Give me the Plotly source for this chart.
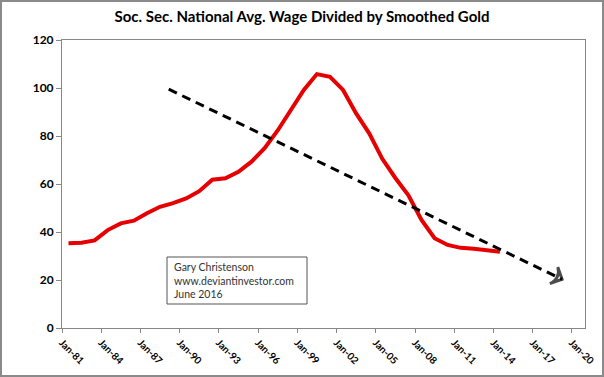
import plotly.graph_objects as go

# ---- data ----
years = list(range(1981, 2015))
ratio = [35.3, 35.5, 36.5, 40.8, 43.6, 44.7, 47.8, 50.5, 52.0, 54.0,
         57.0, 61.8, 62.4, 65.1, 69.3, 74.9, 82.3, 91.0, 99.2, 105.8,
         104.7, 99.2, 89.4, 81.1, 70.5, 62.5, 55.3, 45.0, 37.4, 34.6,
         33.4, 33.0, 32.6, 31.8]
dates = [f"{y}-07-01" for y in years]

trend_dates = ["1989-03-01", "2019-04-01"]
trend_values = [99.5, 20.3]

tick_years = list(range(1981, 2021, 3))
tick_dates = [f"{y}-01-01" for y in tick_years]
tick_labels = [f"Jan-{str(y)[2:]}" for y in tick_years]

y_ticks = [0, 20, 40, 60, 80, 100, 120]

title = "Soc. Sec. National Avg. Wage Divided by Smoothed Gold"
note = "Gary Christenson<br>www.deviantinvestor.com<br>June 2016"

FONT = "Lato"

fig = go.Figure()
fig.add_trace(go.Scatter(
    x=dates, y=ratio, mode="lines",
    line=dict(color="#e60000", width=4), showlegend=False, hoverinfo="skip"))
fig.add_trace(go.Scatter(
    x=trend_dates, y=trend_values, mode="lines+markers",
    line=dict(color="black", width=3, dash="9px,6px"),
    marker=dict(symbol="arrow-wide-open", size=[0, 13], angleref="previous",
                color="black", line=dict(color="black", width=3)),
    showlegend=False, hoverinfo="skip"))

W, H = 604, 377
ml, mr, mt, mb = 62, 19, 40, 49

fig.update_layout(
    width=W, height=H,
    margin=dict(l=ml, r=mr, t=mt, b=mb, autoexpand=False),
    paper_bgcolor="white", plot_bgcolor="white",
    font=dict(family=FONT, color="black"),
    title=dict(text=f"<b>{title}</b>", x=0.5, xanchor="center", y=0.955, yanchor="middle",
               font=dict(family=FONT, size=15, color="black")),
    xaxis=dict(
        type="date", range=["1981-01-01", "2021-01-01"],
        tickvals=tick_dates, ticktext=[f"<b>{t}</b>" for t in tick_labels],
        tickangle=45, ticks="outside", ticklen=4, tickcolor="#888",
        tickfont=dict(family=FONT, size=10, color="black"),
        showgrid=False, showline=True, linecolor="#888", linewidth=1, mirror=True,
        zeroline=False, automargin=False),
    yaxis=dict(
        range=[0, 120], ticks="outside", ticklen=5, tickcolor="#888",
        tickvals=y_ticks,
        ticktext=[f"<b>{v}</b>" for v in y_ticks],
        tickfont=dict(family=FONT, size=12, color="black"),
        showgrid=False, showline=True, linecolor="#888", linewidth=1, mirror=True,
        zeroline=False, automargin=False),
)

pw, ph = W - ml - mr, H - mt - mb
def px(xp):
    return (xp - ml) / pw
def py(yp):
    return (H - mb - yp) / ph

# outer border
fig.add_shape(type="rect", xref="paper", yref="paper",
              x0=px(1), x1=px(W - 1), y0=py(H - 1), y1=py(1),
              line=dict(color="#8a8a8a", width=2), fillcolor="rgba(0,0,0,0)", layer="below")
# note box
fig.add_shape(type="rect", xref="paper", yref="paper",
              x0=px(167), x1=px(307), y0=py(304), y1=py(257),
              line=dict(color="#555", width=1), fillcolor="white")
fig.add_annotation(xref="paper", yref="paper", x=px(172), y=py(259),
                   xanchor="left", yanchor="top", align="left", showarrow=False,
                   text=note, font=dict(family=FONT, size=10.5, color="#333"))

fig.write_html("out.html", config={"displayModeBar": False},
               post_script="document.body.style.margin='0';document.body.style.overflow='hidden';")
